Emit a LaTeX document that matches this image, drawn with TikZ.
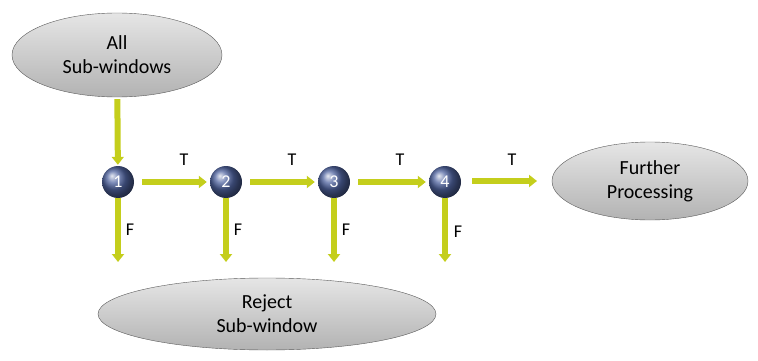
\documentclass[tikz,border=0pt]{standalone}
\usepackage{fontspec}
\setmainfont{Carlito}
\usetikzlibrary{shapes.geometric,arrows.meta}

\definecolor{arrowgreen}{RGB}{196,206,28}
\definecolor{ballblue}{RGB}{80,100,160}

\begin{document}
\begin{tikzpicture}[x=1pt, y=-1pt,
			blob/.style={draw=gray!70!black, ellipse, inner sep=0pt, top color=gray!20, bottom color=gray!60, font=\fontsize{20}{24}\selectfont, align=center},
			stage/.style={circle, minimum size=32pt, inner sep=0pt, ball color=ballblue, text=white, font=\fontsize{18}{20}\selectfont},
			flow/.style={draw=arrowgreen, line width=6pt, -{Triangle[width=12pt,length=8pt]}},
			lbl/.style={font=\fontsize{18}{20}\selectfont}]
			
			\useasboundingbox (0,0) rectangle (758,361);
			
			% Define the big ellipses
			\node[blob, minimum width=210pt, minimum height=84pt] (all) at (117, 55) {All\\Sub-windows};
			\node[blob, minimum width=196pt, minimum height=78pt] (further) at (650, 181) {Further\\Processing};
			\node[blob, minimum width=338pt, minimum height=72pt] (reject) at (267, 314) {Reject\\Sub-window};
			
			% Define the stages
			\node[stage] (S1) at (118, 182) {1};
			\node[stage] (S2) at (226, 182) {2};
			\node[stage] (S3) at (334, 182) {3};
			\node[stage] (S4) at (445, 182) {4};
			
			% Free ends of the arrows
			\coordinate (T5) at (537, 181);
			\coordinate (F1) at (118, 262);
			\coordinate (F2) at (226, 262);
			\coordinate (F3) at (334, 262);
			\coordinate (F4) at (445, 262);
			
			% Draw the arrows
			\draw[flow, shorten <=2pt, shorten >=1pt] (all) -- (S1);
			\draw[flow, shorten <=8pt, shorten >=3pt] (S1) -- (S2);
			\draw[flow, shorten <=8pt, shorten >=3pt] (S2) -- (S3);
			\draw[flow, shorten <=8pt, shorten >=3pt] (S3) -- (S4);
			\draw[flow, shorten <=11pt] (S4.east |- T5) -- (T5);
			\draw[flow] (S1) -- (F1);
			\draw[flow] (S2) -- (F2);
			\draw[flow] (S3) -- (F3);
			\draw[flow] (S4) -- (F4);
			
			% Labels
			\node[lbl] (t1) at (184, 160) {T};
			\node[lbl] (t2) at (292, 160) {T};
			\node[lbl] (t3) at (400, 160) {T};
			\node[lbl] (t4) at (512, 160) {T};
			\node[lbl] (f1) at (130, 230) {F};
			\node[lbl] (f2) at (238, 230) {F};
			\node[lbl] (f3) at (346, 230) {F};
			\node[lbl] (f4) at (458, 232) {F};
		\end{tikzpicture}
\end{document}
